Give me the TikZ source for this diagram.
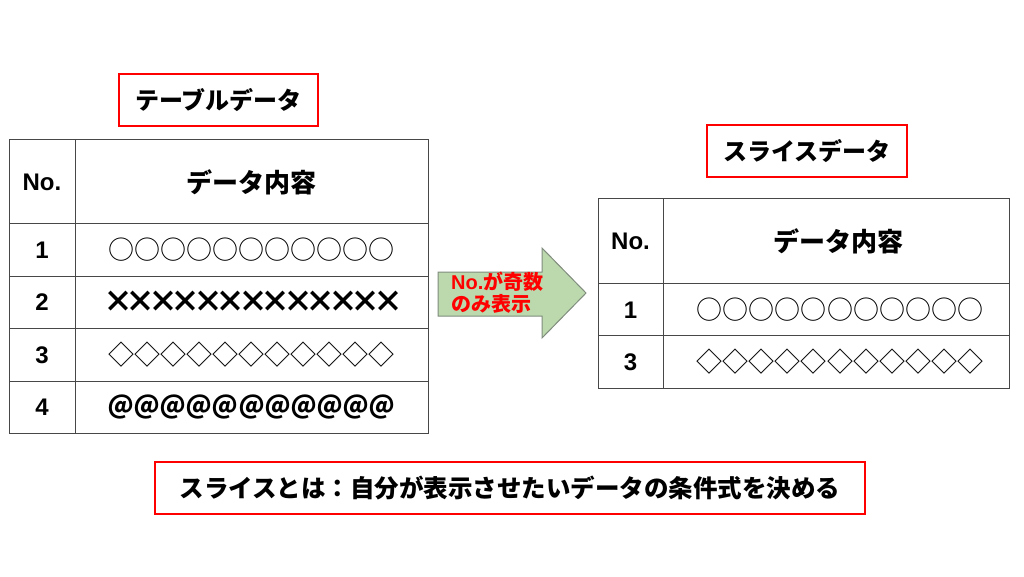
\documentclass[tikz,border=0pt]{standalone}
\usepackage{fontspec}
\setmainfont{Liberation Sans}
\newfontfamily\jp{Noto Sans CJK JP}
\newcommand\rowglyphs[3]{\foreach \i in {1,...,#1}{\makebox[#2]{#3}}}
\begin{document}
\begin{tikzpicture}[x=1pt,y=-1pt,
  tline/.style={draw=black!72, line width=1pt},
  redbox/.style={draw=red, line width=1.8pt, inner sep=0pt},
  jpb/.style={font=\jp\bfseries\fontsize{24}{28}\selectfont},
  numtxt/.style={font=\bfseries\fontsize{24}{28}\selectfont},
  glyph/.style={font=\jp\fontsize{26}{28}\selectfont, inner sep=0pt},
  crossglyph/.style={font=\jp\bfseries\fontsize{30}{32}\selectfont, inner sep=0pt},
  atglyph/.style={font=\jp\bfseries\fontsize{25}{28}\selectfont, inner sep=0pt}]
\useasboundingbox (0,0) rectangle (1024,576);

% title boxes
\node[redbox, jpb, minimum width=199pt, minimum height=52pt] (t1) at (218.5,100) {テーブルデータ};
\node[redbox, jpb, minimum width=200pt, minimum height=52pt] (t2) at (807,151) {スライスデータ};
\node[redbox, font=\jp\bfseries\fontsize{24.5}{28}\selectfont, minimum width=710pt, minimum height=52pt] (note) at (510,488) {スライスとは：自分が表示させたいデータの条件式を決める};

% left table
\draw[tline] (9,139) rectangle (428,433);
\draw[tline] (75,139) -- (75,433);
\foreach \yy in {223,276,328,381} \draw[tline] (9,\yy) -- (428,\yy);
\node[numtxt] (lno) at (42,182) {No.};
\node[jpb, font=\jp\bfseries\fontsize{26}{28}\selectfont] (lhd) at (251.5,182) {データ内容};
\node[numtxt] (l1) at (42,250) {1};
\node[numtxt] (l2) at (42,302) {2};
\node[numtxt] (l3) at (42,355) {3};
\node[numtxt] (l4) at (42,407) {4};
\node[glyph] (lc1) at (251.5,250) {\rowglyphs{11}{26.1pt}{○}};
\node[crossglyph] (lc2) at (253,302) {\rowglyphs{13}{22.5pt}{×}};
\node[glyph] (lc3) at (251.5,355) {\rowglyphs{11}{26.1pt}{◇}};
\node[atglyph] (lc4) at (251.5,407) {\rowglyphs{11}{26.1pt}{＠}};

% arrow
\draw[fill={rgb,255:red,187;green,217;blue,172}, draw={rgb,255:red,128;green,140;blue,125}, line width=1pt]
  (438,272) -- (542,272) -- (542,248) -- (586,293) -- (542,338) -- (542,316) -- (438,316) -- cycle;
\node[anchor=west, align=left, text=red, inner sep=0pt,
  font=\jp\bfseries\fontsize{20}{22}\selectfont] (arrtxt) at (451,293)
  {{\fontspec{Liberation Sans}\bfseries No.}が奇数\\のみ表示};

% right table
\draw[tline] (598,198) rectangle (1009,388);
\draw[tline] (663,198) -- (663,388);
\foreach \yy in {283,335} \draw[tline] (598,\yy) -- (1009,\yy);
\node[numtxt] (rno) at (630.5,241) {No.};
\node[jpb, font=\jp\bfseries\fontsize{26}{28}\selectfont] (rhd) at (838,241) {データ内容};
\node[numtxt] (r1) at (630.5,310) {1};
\node[numtxt] (r3) at (630.5,362) {3};
\node[glyph] (rc1) at (840,310) {\rowglyphs{11}{26.1pt}{○}};
\node[glyph] (rc3) at (840,362) {\rowglyphs{11}{26.1pt}{◇}};
\end{tikzpicture}
\end{document}
